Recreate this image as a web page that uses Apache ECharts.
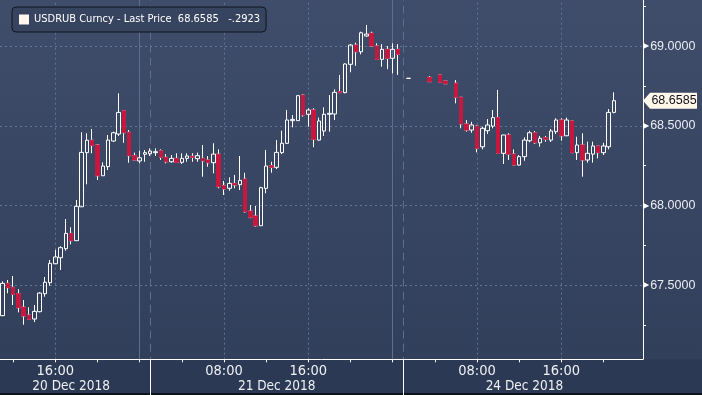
<!DOCTYPE html>
<html><head><meta charset="utf-8">
<script src="https://cdn.jsdelivr.net/npm/echarts@6/dist/echarts.min.js"></script>
<style>html,body{margin:0;padding:0;background:#36445f;}#c{width:702px;height:395px;}</style>
</head><body><div id="c"></div>
<script>
const ticker = 'USDRUB Curncy';
const lastPrice = 68.6585;
const netChange = '-.2923';
const days = ['20 Dec 2018', '21 Dec 2018', '24 Dec 2018'];
const firstDayStartMinutes = 11 * 60;
const hourLabels = ['08:00', '16:00'];
const midnightSlots = ['21 Dec 2018 00:00', '24 Dec 2018 00:00'];
const sessionBreaks = ['21 Dec 2018 01:00', '24 Dec 2018 01:00'];
const dateLabelSlots = ['20 Dec 2018 17:30', '21 Dec 2018 13:00', '24 Dec 2018 12:30'];
const yGridValues = [67.5, 68, 68.5, 69];
const yMin = 67, yMax = 69.291;

const opens = [67.308,67.511,67.486,67.446,67.361,67.312,67.287,67.333,67.446,67.515,
 67.634,67.672,67.729,67.825,67.779,67.992,68.332,68.410,68.380,68.187,
 68.244,68.405,68.449,68.595,68.460,68.313,68.280,68.322,68.325,68.332,
 68.344,68.303,68.275,68.296,68.271,68.296,68.309,68.294,68.296,68.286,
 68.269,68.322,68.124,68.108,68.139,68.131,68.166,67.965,67.934,67.873,
 68.108,68.250,68.240,68.332,68.391,68.533,68.533,68.694,68.573,68.600,
 68.411,68.468,68.573,68.575,68.715,68.709,68.887,69.008,68.966,69.065,
 69.082,69.002,68.918,68.981,68.925,68.981,null,68.799,null,null,
 null,68.805,null,68.820,68.782,null,68.768,68.680,68.512,68.474,
 68.499,68.369,68.470,68.499,68.552,68.328,68.443,68.323,68.254,68.307,
 68.407,68.457,68.394,68.426,68.411,68.464,68.537,68.438,68.531,68.332,
 68.380,68.286,68.323,68.374,68.332,68.369,68.585,null,null,null,
 null,null];
const closes = [67.511,67.484,67.442,67.358,67.306,67.285,67.335,67.450,67.518,67.637,
 67.677,67.735,67.825,67.779,67.995,68.334,68.410,68.378,68.187,68.248,
 68.411,68.457,68.585,68.457,68.313,68.286,68.300,68.332,68.342,68.338,
 68.303,68.275,68.296,68.271,68.296,68.311,68.303,68.313,68.281,68.269,
 68.323,68.118,68.104,68.139,68.129,68.158,67.961,67.926,67.873,68.112,
 68.248,68.240,68.334,68.391,68.537,68.541,68.690,68.568,68.600,68.416,
 68.531,68.573,68.579,68.711,68.709,68.889,69.008,68.966,69.085,69.077,
 69.002,68.918,68.981,68.925,68.981,68.950,null,68.799,null,null,
 null,68.778,null,68.774,68.765,null,68.680,68.512,68.474,68.506,
 68.359,68.485,68.506,68.552,68.328,68.443,68.322,68.254,68.307,68.411,
 68.457,68.394,68.422,68.416,68.468,68.537,68.438,68.537,68.332,68.380,
 68.286,68.328,68.374,68.332,68.374,68.585,68.6585,null,null,null,
 null,null];
const lows = [67.305,67.449,67.375,67.329,67.251,67.281,67.268,67.329,67.427,67.496,
 67.633,67.595,67.716,67.756,67.779,67.992,68.133,68.328,68.160,68.187,
 68.223,68.401,68.437,68.394,68.269,68.286,68.265,68.275,68.311,68.311,
 68.286,68.265,68.269,68.269,68.261,68.275,68.275,68.275,68.181,68.244,
 68.202,68.108,68.066,68.093,68.108,68.097,67.955,67.920,67.867,67.873,
 68.077,68.206,68.229,68.323,68.386,68.491,68.533,68.558,68.495,68.366,
 68.407,68.437,68.464,68.537,68.709,68.705,68.837,68.878,68.950,69.060,
 68.997,68.914,68.872,68.856,68.830,68.820,null,68.799,null,null,
 null,68.778,null,68.774,68.765,null,68.642,68.485,68.464,68.457,
 68.334,68.353,68.449,68.485,68.328,68.261,68.286,68.254,68.250,68.281,
 68.397,68.386,68.369,68.401,68.399,68.449,68.407,68.437,68.332,68.286,
 68.181,68.269,68.269,68.296,68.317,68.353,68.579,null,null,null,
 null,null];
const highs = [67.524,67.532,67.557,67.474,67.406,67.361,67.375,67.455,67.551,67.658,
 67.722,67.744,67.915,67.863,68.035,68.460,68.454,68.481,68.386,68.271,
 68.443,68.464,68.705,68.600,68.474,68.332,68.344,68.349,68.359,68.359,
 68.353,68.323,68.317,68.328,68.328,68.328,68.328,68.332,68.380,68.311,
 68.391,68.353,68.154,68.177,68.192,68.311,68.206,68.003,67.997,68.118,
 68.349,68.275,68.411,68.470,68.600,68.568,68.694,68.700,68.611,68.611,
 68.552,68.617,68.694,68.730,68.820,68.893,69.014,69.023,69.092,69.134,
 69.092,69.019,69.014,69.002,69.019,69.014,null,68.799,null,null,
 null,68.813,null,68.820,68.782,null,68.788,68.680,68.537,68.526,
 68.506,68.495,68.543,68.600,68.726,68.443,68.454,68.353,68.317,68.428,
 68.470,68.468,68.437,68.437,68.481,68.548,68.548,68.552,68.531,68.432,
 68.454,68.401,68.401,68.374,68.394,68.606,68.711,null,null,null,
 null,null];

// 30-minute time slots (weekend skipped)
const categories = [];
days.forEach((d, di) => {
  for (let m = di === 0 ? firstDayStartMinutes : 0; m < 24 * 60; m += 30) {
    const hh = String(Math.floor(m / 60)).padStart(2, '0');
    const mm = String(m % 60).padStart(2, '0');
    categories.push(d + ' ' + hh + ':' + mm);
  }
});
const timeOf = v => v.slice(-5);
const dateOf = v => v.slice(0, 11);

const ohlc = categories.map((c, i) => opens[i] == null ? '-' : [opens[i], closes[i], lows[i], highs[i]]);
const downBodies = categories.map((c, i) => (opens[i] != null && closes[i] < opens[i]) ? [opens[i], closes[i], closes[i], opens[i]] : '-');

const COND = "'Liberation Sans Narrow','Arial Narrow','DejaVu Sans Condensed',sans-serif";
const RED = '#c8173f';
const GRID_RIGHT_X = 643;
const PLOT_BOTTOM_Y = 359.5;

const guideLines = [];
categories.forEach(c => {
  if (hourLabels.includes(timeOf(c))) guideLines.push({xAxis: c, lineStyle: {color: '#5f7395', type: [2, 3], width: 1}});
});
midnightSlots.forEach(c => guideLines.push({xAxis: c, lineStyle: {color: '#5b6f8e', type: 'solid', width: 1}}));
sessionBreaks.forEach(c => guideLines.push({xAxis: c, lineStyle: {color: '#5b6f8e', type: [8, 5], width: 1}}));
yGridValues.forEach(v => guideLines.push({yAxis: v, lineStyle: {color: '#62769a', type: [2, 3], width: 1}}));

const chart = echarts.init(document.getElementById('c'), null, {renderer: 'canvas'});
chart.setOption({
  animation: false,
  backgroundColor: '#36445f',
  graphic: [
    {id: 'bg', type: 'rect', z: -100, silent: true, shape: {x: 0, y: 0, width: 702, height: 395},
     style: {fill: new echarts.graphic.LinearGradient(0, 0, 0, 1, [{offset: 0, color: '#3f4d6a'}, {offset: 1, color: '#303e5a'}])}},
    {id: 'band', type: 'rect', z: 50, silent: true, shape: {x: 0, y: PLOT_BOTTOM_Y, width: 702, height: 395 - PLOT_BOTTOM_Y},
     style: {fill: '#2c3954'}},
    {id: 'edge', type: 'rect', z: 51, silent: true, shape: {x: 0, y: 393, width: 702, height: 2}, style: {fill: '#0e131b'}}
  ],
  legend: {
    data: [{name: ticker, icon: 'rect', itemStyle: {color: '#fff6f0', borderWidth: 0}}],
    left: 12, top: 7, padding: [7, 6, 7, 7], itemWidth: 10, itemHeight: 10,
    selectedMode: false, backgroundColor: '#37445f', borderColor: '#0f141d', borderWidth: 1, borderRadius: 4,
    textStyle: {color: '#ffffff', fontSize: 11, fontFamily: COND},
    formatter: n => n + ' - Last Price  ' + lastPrice + '   ' + netChange
  },
  grid: {left: 0, right: 702 - GRID_RIGHT_X, top: 0, bottom: 30.3, containLabel: false},
  xAxis: [
    {
      type: 'category', data: categories, boundaryGap: true, position: 'bottom', offset: -5.4, z: 60,
      axisLine: {show: true, lineStyle: {color: '#ffffff', width: 1}},
      axisTick: {show: true, alignWithLabel: true, length: 3, lineStyle: {color: '#ffffff'},
        interval: (i, v) => { const t = timeOf(v); return t.endsWith(':00') && (+t.slice(0, 2)) % 4 === 0; }},
      axisLabel: {interval: (i, v) => hourLabels.includes(timeOf(v)), formatter: v => timeOf(v),
        color: '#eef0f4', fontSize: 14.5, fontFamily: COND, margin: 4},
      splitLine: {show: false}
    },
    {
      type: 'category', data: categories, boundaryGap: true, position: 'bottom', offset: -5.4, z: 60,
      axisLine: {show: false},
      axisTick: {show: true, alignWithLabel: true, length: 36, lineStyle: {color: '#ffffff'},
        interval: (i, v) => sessionBreaks.includes(v)},
      axisLabel: {interval: (i, v) => dateLabelSlots.includes(v), formatter: v => dateOf(v),
        color: '#eef0f4', fontSize: 13.5, fontFamily: COND, margin: 20},
      splitLine: {show: false}
    }
  ],
  yAxis: {
    type: 'value', position: 'right', min: yMin, max: yMax, interval: 0.5,
    axisLine: {show: true, lineStyle: {color: '#ffffff', width: 1}},
    axisTick: {show: false},
    minorTick: {show: true, splitNumber: 2, length: 3, lineStyle: {color: '#ffffff'}},
    splitLine: {show: false},
    minorSplitLine: {show: false},
    axisLabel: {
      showMinLabel: false, showMaxLabel: false, margin: 0,
      formatter: v => yGridValues.includes(v) ? '{t|\u25B6}{v|' + v.toFixed(4) + '}' : '',
      rich: {
        t: {fontSize: 8, color: '#ffffff', fontFamily: 'DejaVu Sans', padding: [0, 1, 0, 0]},
        v: {fontSize: 12.5, color: '#e9ecf1', fontFamily: "'Liberation Sans',Arial,sans-serif"}
      }
    }
  },
  series: [
    {
      name: ticker, type: 'candlestick', data: ohlc, barWidth: 4, z: 3,
      itemStyle: {color: 'rgba(0,0,0,0)', color0: RED, borderColor: '#ffffff', borderColor0: '#ffffff', borderWidth: 1},
      markLine: {silent: true, z: 1, symbol: ['none', 'none'], label: {show: false}, animation: false, data: guideLines}
    },
    {
      name: 'down', type: 'candlestick', data: downBodies, barWidth: 4, z: 4,
      itemStyle: {color: RED, color0: RED, borderColor: RED, borderColor0: RED, borderWidth: 1}
    }
  ]
});

const py = chart.convertToPixel({yAxisIndex: 0}, lastPrice);
const ax = GRID_RIGHT_X;
chart.setOption({
  graphic: [
    {id: 'tag', type: 'polygon', z: 70, silent: true,
     shape: {points: [[ax, py], [ax + 7, py - 8], [ax + 54, py - 8], [ax + 54, py + 8], [ax + 7, py + 8]]},
     style: {fill: '#fff8ea'}},
    {id: 'tagText', type: 'text', z: 71, silent: true, x: ax + 31, y: py,
     style: {text: lastPrice.toFixed(4), fill: '#10131a', font: "12.5px 'Liberation Sans', Arial, sans-serif",
       textAlign: 'center', textVerticalAlign: 'middle'}}
  ]
});
</script></body></html>
